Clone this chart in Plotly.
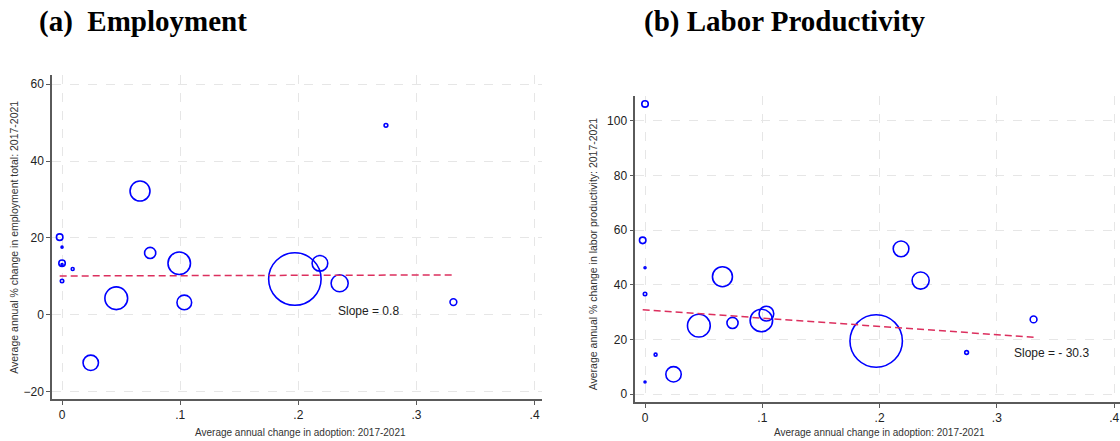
import plotly.graph_objects as go

# ---- data ----
adoption_change = [-0.002, 0.000, 0.000, 0.000, 0.000, 0.009, 0.0243, 0.0459, 0.0660,
                   0.0746, 0.0992, 0.1035, 0.1971, 0.2183, 0.2350, 0.2742, 0.3313]
employment_change = [20.2, 13.4, 8.8, 17.6, 13.1, 11.9, -12.5, 4.3, 32.2,
                     16.1, 13.4, 3.2, 9.3, 13.4, 8.2, 49.3, 3.3]
productivity_change = [56.3, 106.2, 36.7, 46.3, 4.5, 14.5, 7.3, 25.1, 43.0,
                       26.1, 27.0, 29.5, 19.5, 53.2, 41.6, 15.3, 27.4]
sector_weight = [21, 21, 6, 1, 1, 4.4, 119, 259, 199,
                 62, 253, 108, 1376, 123, 146, 7, 23]

fit_employment = {"intercept": 10.1, "slope": 0.8}
fit_productivity = {"intercept": 30.9, "slope": -30.3}

x_ticks = [0, 0.1, 0.2, 0.3, 0.4]
x_tick_labels = ["0", ".1", ".2", ".3", ".4"]
y_ticks_emp = [-20, 0, 20, 40, 60]
y_ticks_prod = [0, 20, 40, 60, 80, 100]

panel_titles = ["(a)\u00a0 Employment", "(b) Labor Productivity"]
x_title = "Average annual change in adoption: 2017-2021"
y_title_emp = "Average annual % change in employment total: 2017-2021"
y_title_prod = "Average annual % change in labor productivity: 2017-2021"

# ---- style ----
W, H = 1120, 441
BLUE = "#0000FF"
FIT = "#DC2F5E"
AXIS = "#5a5a5a"
GRID = "#E6E6E6"
SANS = "Arial, Liberation Sans, sans-serif"
SERIF = "Times New Roman, Liberation Serif, serif"

fig = go.Figure()

max_w = max(sector_weight)
sref = max_w / (37.1 ** 2)


def add_panel(yvals, fit, xa, ya):
    fig.add_trace(go.Scatter(
        x=adoption_change, y=yvals, mode="markers", xaxis=xa, yaxis=ya,
        marker=dict(symbol="circle-open", size=sector_weight, sizemode="area",
                    sizeref=sref, sizemin=1, color=BLUE, opacity=1,
                    line=dict(color=BLUE, width=1.6)),
        showlegend=False, hoverinfo="skip"))
    x0, x1 = min(adoption_change), max(adoption_change)
    fig.add_trace(go.Scatter(
        x=[x0, x1],
        y=[fit["intercept"] + fit["slope"] * x0, fit["intercept"] + fit["slope"] * x1],
        mode="lines", xaxis=xa, yaxis=ya,
        line=dict(color=FIT, width=1.5, dash="7px,4px"),
        showlegend=False, hoverinfo="skip"))


add_panel(employment_change, fit_employment, "x", "y")
add_panel(productivity_change, fit_productivity, "x2", "y2")

common = dict(showline=True, linecolor=AXIS, linewidth=1.5, ticks="outside",
              ticklen=4, tickwidth=1, tickcolor=AXIS, showgrid=True,
              gridcolor=GRID, griddash="dash", gridwidth=1, zeroline=False,
              tickfont=dict(family=SANS, size=12, color="#222222"))

fig.update_layout(
    width=W, height=H, margin=dict(l=0, r=0, t=0, b=0),
    paper_bgcolor="white", plot_bgcolor="white",
    xaxis=dict(domain=[52 / W, 542 / W], range=[-0.0085, 0.4063], anchor="y",
               tickvals=x_ticks, ticktext=x_tick_labels, **common),
    yaxis=dict(domain=[1 - 399.3 / H, 1 - 75 / H], range=[-22, 62.4], anchor="x",
               tickvals=y_ticks_emp, **common),
    xaxis2=dict(domain=[635.3 / W, 1.0], range=[-0.0083, 0.405], anchor="y2",
                tickvals=x_ticks, ticktext=x_tick_labels, **common),
    yaxis2=dict(domain=[1 - 402.3 / H, 1 - 96 / H], range=[-2.93, 109.1], anchor="x2",
                tickvals=y_ticks_prod, **common),
)

ann = []
# panel titles
for txt, xl in zip(panel_titles, [37, 642]):
    ann.append(dict(text="<b>" + txt + "</b>", x=xl / W, y=1 - 22 / H, xref="paper", yref="paper",
                    xanchor="left", yanchor="middle", showarrow=False,
                    font=dict(family=SERIF, size=29, color="black")))
# x titles
for xc in [300, 879]:
    ann.append(dict(text=x_title, x=xc / W, y=1 - 432.7 / H, xref="paper", yref="paper",
                    xanchor="center", yanchor="middle", showarrow=False,
                    font=dict(family=SANS, size=10, color="#333333")))
# y titles
ann.append(dict(text=y_title_emp, x=13.3 / W, y=1 - 237.5 / H, xref="paper", yref="paper",
                xanchor="center", yanchor="middle", showarrow=False, textangle=-90,
                font=dict(family=SANS, size=10.5, color="#333333")))
ann.append(dict(text=y_title_prod, x=593.3 / W, y=1 - 254 / H, xref="paper", yref="paper",
                xanchor="center", yanchor="middle", showarrow=False, textangle=-90,
                font=dict(family=SANS, size=10.5, color="#333333")))
# slope labels
ann.append(dict(text="Slope = %.1f" % fit_employment["slope"], x=0.2596, y=0.9, xref="x", yref="y",
                xanchor="center", yanchor="middle", showarrow=False,
                font=dict(family=SANS, size=12, color="#222222")))
ann.append(dict(text="Slope = - %.1f" % abs(fit_productivity["slope"]), x=0.347, y=15.0,
                xref="x2", yref="y2", xanchor="center", yanchor="middle", showarrow=False,
                font=dict(family=SANS, size=12, color="#222222")))

fig.update_layout(annotations=ann)
fig.write_html("out.html")
